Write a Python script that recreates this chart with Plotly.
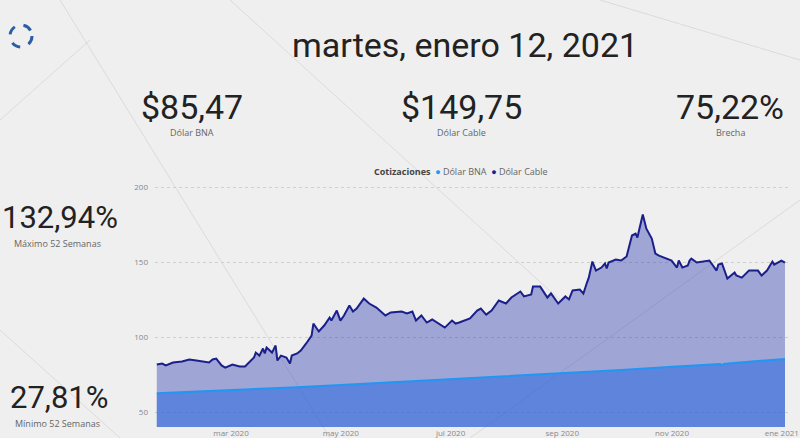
import plotly.graph_objects as go

# ---------------- data ----------------
cable_dates = [
    "2020-01-17", "2020-01-20", "2020-01-22", "2020-01-26", "2020-01-31", "2020-02-04", "2020-02-08",
    "2020-02-13", "2020-02-15", "2020-02-17", "2020-02-19", "2020-02-22", "2020-02-24", "2020-02-28",
    "2020-03-03", "2020-03-06", "2020-03-08", "2020-03-11", "2020-03-12", "2020-03-14", "2020-03-16",
    "2020-03-17", "2020-03-18", "2020-03-21", "2020-03-23", "2020-03-24", "2020-03-26", "2020-03-29",
    "2020-03-31", "2020-04-01", "2020-04-04", "2020-04-06", "2020-04-09", "2020-04-12", "2020-04-13",
    "2020-04-16", "2020-04-19", "2020-04-22", "2020-04-23", "2020-04-26", "2020-04-28", "2020-04-30",
    "2020-05-03", "2020-05-05", "2020-05-07", "2020-05-11", "2020-05-14", "2020-05-18", "2020-05-23",
    "2020-05-26", "2020-06-01", "2020-06-04", "2020-06-07", "2020-06-09", "2020-06-12", "2020-06-15",
    "2020-06-18", "2020-06-25", "2020-06-29", "2020-07-01", "2020-07-03", "2020-07-09", "2020-07-13",
    "2020-07-15", "2020-07-18", "2020-07-21", "2020-07-25", "2020-07-29", "2020-08-01", "2020-08-06",
    "2020-08-08", "2020-08-12", "2020-08-13", "2020-08-17", "2020-08-21", "2020-08-23", "2020-08-27",
    "2020-08-31", "2020-09-02", "2020-09-04", "2020-09-08", "2020-09-10", "2020-09-12", "2020-09-13",
    "2020-09-15", "2020-09-17", "2020-09-20", "2020-09-22", "2020-09-23", "2020-09-24", "2020-09-28",
    "2020-10-01", "2020-10-04", "2020-10-07", "2020-10-09", "2020-10-10", "2020-10-13", "2020-10-15",
    "2020-10-18", "2020-10-20", "2020-10-22", "2020-10-27", "2020-10-29", "2020-11-01", "2020-11-02",
    "2020-11-04", "2020-11-07", "2020-11-08", "2020-11-09", "2020-11-12", "2020-11-19", "2020-11-23",
    "2020-11-24", "2020-11-26", "2020-11-29", "2020-12-03", "2020-12-04", "2020-12-07", "2020-12-11",
    "2020-12-16", "2020-12-18", "2020-12-21", "2020-12-24", "2020-12-25", "2020-12-29", "2020-12-31",
]
cable_values = [
    81.7, 82.4, 81.1, 83.1, 83.7, 85.1, 84.4,
    83.7, 83.1, 85.1, 85.7, 81.1, 79.7, 81.7,
    80.4, 80.4, 83.1, 86.4, 89.7, 87.7, 92.4,
    89.1, 93.1, 89.7, 94.4, 84.4, 87.7, 86.4,
    82.4, 87.7, 89.1, 91.1, 95.8, 101.1, 109.1,
    103.8, 107.8, 113.1, 111.1, 117.8, 111.1, 114.5,
    121.1, 117.1, 119.1, 125.8, 122.5, 119.8, 114.5,
    116.5, 117.1, 115.8, 117.1, 111.1, 114.5, 109.8,
    111.8, 106.4, 111.1, 109.1, 109.8, 112.5, 117.8,
    119.1, 115.1, 117.8, 124.5, 122.5, 126.5, 130.5,
    127.2, 128.5, 133.8, 133.8, 126.5, 129.2, 122.5,
    127.2, 125.2, 131.2, 131.8, 129.2, 136.5, 139.8,
    150.5, 144.5, 146.5, 149.2, 145.9, 149.9, 151.9,
    151.2, 153.9, 167.9, 169.2, 166.6, 181.9, 172.5,
    165.9, 155.9, 154.5, 152.5, 151.2, 146.5, 151.2,
    146.5, 147.9, 151.2, 152.5, 149.9, 151.2, 144.5,
    148.5, 149.2, 139.2, 143.2, 141.2, 139.8, 144.5,
    144.5, 141.2, 144.5, 150.5, 148.5, 151.2, 149.75,
]

bna_dates = [
    "2020-01-17", "2020-02-01", "2020-03-01", "2020-04-01", "2020-05-01", "2020-06-01",
    "2020-07-01", "2020-08-01", "2020-09-01", "2020-10-01", "2020-11-01", "2020-11-25",
    "2020-11-26", "2020-11-27", "2020-12-01", "2020-12-31",
]
bna_values = [
    62.5, 63.2, 64.7, 66.4, 68.3, 70.2,
    72.0, 73.9, 75.9, 78.0, 80.4, 82.0,
    81.2, 82.1, 82.6, 85.47,
]

x_tick_vals = ["2020-03-01", "2020-05-01", "2020-07-01", "2020-09-01", "2020-11-01", "2021-01-01"]
x_tick_text = ["mar 2020", "may 2020", "jul 2020", "sep 2020", "nov 2020", "ene 2021"]
y_tick_vals = [50, 100, 150, 200]

title_text = "martes, enero 12, 2021"
legend_title = "Cotizaciones"
series_names = ["Dólar BNA", "Dólar Cable"]
kpi_values = ["$85,47", "$149,75", "75,22%"]
kpi_labels = ["Dólar BNA", "Dólar Cable", "Brecha"]
side_values = ["132,94%", "27,81%"]
side_labels = ["Máximo 52 Semanas", "Mínimo 52 Semanas"]

# ---------------- layout helpers ----------------
W, H = 800, 438
L, R, T, B = 155, 10, 180, 11
PW, PH = W - L - R, H - T - B


def px(xp):
    return (xp - L) / PW


def py(yp):
    return (H - B - yp) / PH


NAVY = "#1b1f8a"
BLUE = "#2196f3"
BIG = "Roboto, sans-serif"
SMALL = "Open Sans, Roboto, sans-serif"

fig = go.Figure()
fig.add_trace(go.Scatter(
    x=cable_dates, y=cable_values, mode="lines", name=series_names[1],
    line=dict(color=NAVY, width=2), fill="tozeroy", fillcolor="rgba(40,55,175,0.40)",
    showlegend=False,
))
fig.add_trace(go.Scatter(
    x=bna_dates, y=bna_values, mode="lines", name=series_names[0],
    line=dict(color=BLUE, width=2), fill="tozeroy", fillcolor="rgba(30,100,225,0.50)",
    showlegend=False,
))

annotations = []
annotations.append(dict(text=title_text, x=px(465), y=py(45), xref="paper", yref="paper",
                        showarrow=False, font=dict(family=BIG, size=34, color="#222222"),
                        xanchor="center", yanchor="middle"))
for xc, v, lab in zip([192, 461, 730], kpi_values, kpi_labels):
    annotations.append(dict(text=v, x=px(xc), y=py(107), xref="paper", yref="paper",
                            showarrow=False, font=dict(family=BIG, size=34, color="#222222"),
                            xanchor="center", yanchor="middle"))
    annotations.append(dict(text=lab, x=px(xc), y=py(132), xref="paper", yref="paper",
                            showarrow=False, font=dict(family=SMALL, size=9, color="#666666"),
                            xanchor="center", yanchor="middle"))
for yc, v, lab in zip([217, 397], side_values, side_labels):
    annotations.append(dict(text=v, x=px(60), y=py(yc), xref="paper", yref="paper",
                            showarrow=False, font=dict(family=BIG, size=31, color="#222222"),
                            xanchor="center", yanchor="middle"))
    annotations.append(dict(text=lab, x=px(58), y=py(yc + 26), xref="paper", yref="paper",
                            showarrow=False, font=dict(family=SMALL, size=9, color="#666666"),
                            xanchor="center", yanchor="middle"))
# legend line (title + coloured dots)
legend_html = (f"<b>{legend_title}</b>  <span style='color:{BLUE}'>●</span>"
               f"<span style='color:#666666'> {series_names[0]}</span>  "
               f"<span style='color:{NAVY}'>●</span>"
               f"<span style='color:#666666'> {series_names[1]}</span>")
annotations.append(dict(text=legend_html, x=px(372), y=py(172), xref="paper", yref="paper",
                        showarrow=False, font=dict(family=SMALL, size=9, color="#444444"),
                        xanchor="left", yanchor="middle"))

shapes = []
# faint marble veins
for (x0, y0, x1, y1) in [(60, 0, 330, 438), (0, 330, 120, 438), (230, 0, 560, 300),
                          (600, 0, 800, 60), (0, 120, 90, 40), (470, 438, 800, 200)]:
    shapes.append(dict(type="line", xref="paper", yref="paper", x0=px(x0), y0=py(y0),
                       x1=px(x1), y1=py(y1), line=dict(color="rgba(140,140,140,0.20)", width=1),
                       layer="below"))
# logo ring
shapes.append(dict(type="circle", xref="paper", yref="paper", x0=px(10), x1=px(32),
                   y0=py(47), y1=py(25), line=dict(color="#2c5ea8", width=3, dash="dash")))

fig.update_layout(
    width=W, height=H,
    margin=dict(l=L, r=R, t=T, b=B, autoexpand=False),
    paper_bgcolor="#efefef",
    plot_bgcolor="rgba(0,0,0,0)",
    font=dict(family=SMALL, color="#777777", size=8),
    showlegend=False,
    xaxis=dict(type="date", range=["2020-01-16", "2021-01-02 19:00"], tickvals=x_tick_vals,
               ticktext=x_tick_text, showgrid=False, zeroline=False, showline=False,
               ticks="", ticklabeloverflow="allow", ticklabelshift=-5,
               tickfont=dict(size=8, color="#888888")),
    yaxis=dict(range=[40, 205], tickvals=y_tick_vals, showgrid=True, gridcolor="#cfcfcf",
               griddash="dot", gridwidth=1, zeroline=False, showline=False, ticks="",
               ticklabelstandoff=6, tickfont=dict(size=8, color="#888888")),
    annotations=annotations,
    shapes=shapes,
)

fig.write_html("out.html", config={"displayModeBar": False},
               post_script="document.body.style.margin='0';document.body.style.overflow='hidden';")
